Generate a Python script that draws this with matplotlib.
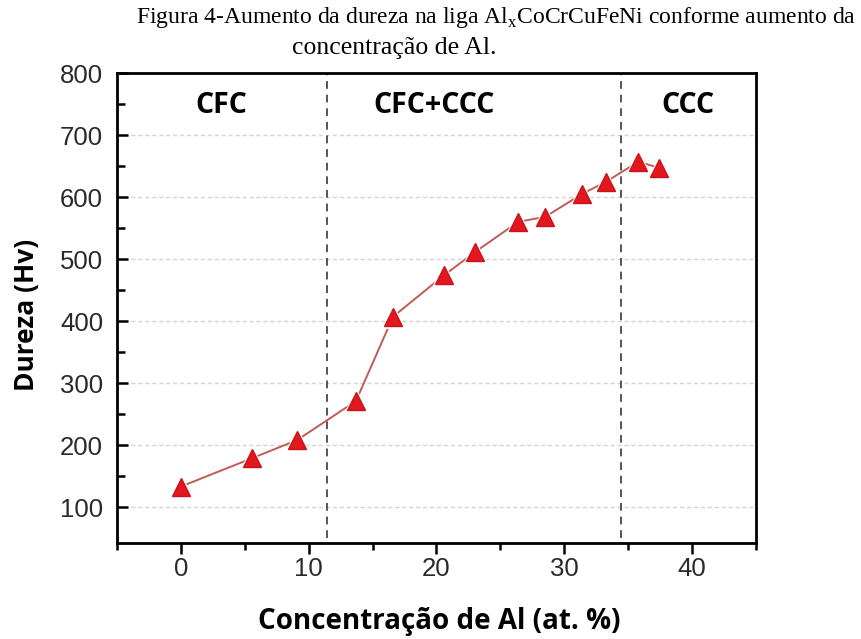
import matplotlib
matplotlib.use("Agg")
import matplotlib.pyplot as plt
from matplotlib.ticker import MultipleLocator, FixedLocator

al_conc = [0, 5.6, 9.1, 13.7, 16.6, 20.6, 23.0, 26.4, 28.5, 31.4, 33.3, 35.8, 37.4]
hardness = [133, 179, 208, 271, 407, 474, 511, 560, 568, 605, 625, 657, 647]
phase_bounds = [11.45, 34.45]
phase_labels = ["CFC", "CFC+CCC", "CCC"]
phase_label_x = [3.2, 19.8, 39.7]

fig = plt.figure(figsize=(8.62, 6.39), dpi=100)
ax = fig.add_axes([117/862, 1-543/639, (756-117)/862, (543-73)/639])

ax.set_xlim(-5, 45)
ax.set_ylim(42, 800)

ax.yaxis.grid(True, color="#d4d4d4", linestyle=(0, (3, 2)), linewidth=1.0)
ax.set_axisbelow(True)

for xb in phase_bounds:
    ax.axvline(xb, ymin=0.01, color="#555555", linestyle=(0, (4, 3)), linewidth=1.4, zorder=2)

ax.plot(al_conc, hardness, color="#c25a55", linewidth=1.4, marker="^",
        markersize=14, markerfacecolor="white", markeredgecolor="white",
        markeredgewidth=2, zorder=3)
ax.plot(al_conc, hardness, linestyle="none", marker="^", markersize=12.5,
        markerfacecolor="#e3171e", markeredgecolor="#c8141a", markeredgewidth=1,
        zorder=4)

for lbl, lx in zip(phase_labels, phase_label_x):
    ax.text(lx, 747, lbl, ha="center", va="center", fontsize=20.5,
            fontweight="bold", family="Open Sans", color="black")

ax.xaxis.set_major_locator(MultipleLocator(10))
ax.xaxis.set_minor_locator(MultipleLocator(5))
ax.yaxis.set_major_locator(MultipleLocator(100))
ax.yaxis.set_minor_locator(FixedLocator([150, 250, 350, 450, 550, 650, 750]))

ax.tick_params(axis="x", which="major", direction="out", length=8, width=1.8,
               labelsize=18.5, pad=2)
ax.tick_params(axis="x", which="minor", direction="out", length=5, width=1.8)
ax.tick_params(axis="y", which="major", direction="in", length=8, width=1.8,
               labelsize=18.5, pad=10)
ax.tick_params(axis="y", which="minor", direction="in", length=5.5, width=1.8)
for lab in ax.get_xticklabels() + ax.get_yticklabels():
    lab.set_family("Liberation Sans")
    lab.set_color("#2a2a2a")

for sp in ax.spines.values():
    sp.set_linewidth(2.0)

ax.set_xlabel("Concentração de Al (at. %)", fontsize=20, fontweight="bold",
              family="Open Sans")
ax.xaxis.set_label_coords(0.505, -(622 - 543) / 470, transform=ax.transAxes)
ax.xaxis.label.set_va("center")
ax.set_ylabel("Dureza (Hv)", fontsize=19, fontweight="bold",
              family="Open Sans")
ax.yaxis.set_label_coords(-(117 - 27) / 639, (543 - 315) / 470, transform=ax.transAxes)
ax.yaxis.label.set_va("center")

fig.text(496/862, 1-18/639, "Figura 4-Aumento da dureza na liga Al$_\\mathregular{x}$CoCrCuFeNi conforme aumento da",
         ha="center", va="center", fontsize=17, family="Liberation Serif")
fig.text(394/862, 1-48/639, "concentração de Al.", ha="center", va="center",
         fontsize=18.5, family="Liberation Serif")

fig.savefig("out.png", dpi=100)
